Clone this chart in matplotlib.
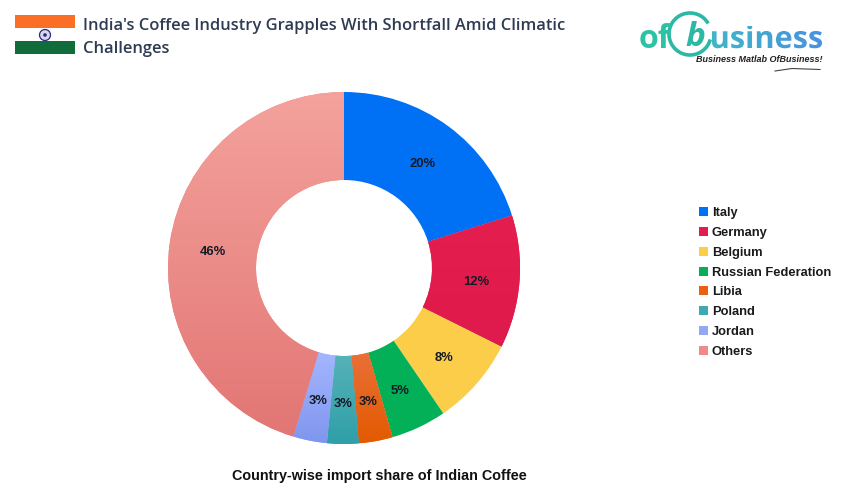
import matplotlib
matplotlib.use("Agg")
import matplotlib.pyplot as plt
import numpy as np
from matplotlib.font_manager import FontProperties
from matplotlib.patches import Rectangle, Circle, Arc, PathPatch
from matplotlib.textpath import TextPath
from matplotlib.transforms import Affine2D

W, H = 845, 491

countries = ["Italy", "Germany", "Belgium", "Russian Federation", "Libia", "Poland", "Jordan", "Others"]
shares = [20.2, 12.2, 8.1, 5.1, 3.1, 2.9, 3.1, 45.4]
colors = ["#0070f5", "#e31c4d", "#fccd48", "#03b057", "#e8610f", "#3fa9b0", "#92a8f5", "#ee8a88"]
# top / bottom colours for the slices with a visible gradient
gradients = {
    "Germany": ("#e41e4e", "#df1a4c"),
    "Libia": ("#ea7038", "#e35a00"),
    "Poland": ("#56b2b8", "#2f9fa8"),
    "Jordan": ("#a4b6ff", "#7f96ee"),
    "Others": ("#f4a29c", "#e27674"),
}
pct_labels = ["20%", "12%", "8%", "5%", "3%", "3%", "3%", "46%"]

title_text = "India's Coffee Industry Grapples With Shortfall Amid Climatic\nChallenges"
caption = "Country-wise import share of Indian Coffee"


def px_axes(fig, x0, y0, x1, y1):
    """Axes from pixel box, y measured from the top."""
    return fig.add_axes([x0 / W, 1 - y1 / H, (x1 - x0) / W, (y1 - y0) / H])


def hex_rgb(c):
    return np.array(matplotlib.colors.to_rgb(c))


fig = plt.figure(figsize=(W / 100, H / 100), dpi=100, facecolor="white")

# donut
cx, cy, r = 344, 268, 176
ax = px_axes(fig, cx - r, cy - r, cx + r, cy + r)
wedges, _ = ax.pie(shares, colors=colors, startangle=90, counterclock=False, radius=1,
                   wedgeprops={"width": 0.5, "linewidth": 0})

for name, w in zip(countries, wedges):
    if name in gradients:
        top, bottom = gradients[name]
        t = np.linspace(0, 1, 256)[:, None]
        img = (hex_rgb(top) * (1 - t) + hex_rgb(bottom) * t)[:, None, :]
        # the gradient runs over the slice height only
        bb = w.get_path().get_extents(w.get_patch_transform())
        im = ax.imshow(img, extent=[bb.x0, bb.x1, bb.y0, bb.y1], aspect="auto", zorder=2)
        im.set_clip_path(w)
ax.set_xlim(-1, 1)
ax.set_ylim(-1, 1)

for w, lab in zip(wedges, pct_labels):
    a = np.deg2rad((w.theta1 + w.theta2) / 2)
    ax.text(0.755 * np.cos(a), 0.755 * np.sin(a) - 0.017, lab, ha="center", va="center", zorder=3,
            fontsize=9.4, fontweight="bold", family="Liberation Sans", color="#141a26")

# legend
handles = [Rectangle((0, 0), 1, 1, facecolor=c, edgecolor="none") for c in colors]
fig.legend(handles, countries, loc="center left", bbox_to_anchor=(699 / W, 1 - 282.5 / H),
           frameon=False, handlelength=0.7, handleheight=0.7, handletextpad=0.3,
           labelspacing=0.605, borderpad=0, borderaxespad=0,
           prop={"family": "Liberation Sans", "weight": "bold", "size": 9.3}, labelcolor="#1a1a1a")

# caption
fig.text(379 / W, 1 - 476 / H, caption, ha="center", va="center", fontsize=10.4,
         fontweight="bold", family="Liberation Sans", color="#111111")

# title
fig.text(83 / W, 1 - 37.5 / H, title_text, ha="left", va="center", fontsize=11.9, fontweight="semibold",
         family="Open Sans", color="#2f3b52", linespacing=1.58)

# flag
flag = px_axes(fig, 15, 15, 75, 54)
flag.set_xlim(0, 60)
flag.set_ylim(39, 0)
flag.axis("off")
flag.add_patch(Rectangle((0, 0), 60, 13, facecolor="#fb6e26", edgecolor="none"))
flag.add_patch(Rectangle((0, 26), 60, 13, facecolor="#126b3a", edgecolor="none"))
flag.add_patch(Circle((30, 20), 5.5, facecolor="#d9d6f0", edgecolor="#2a2a80", linewidth=0.9))
flag.add_patch(Circle((30, 20), 1.8, facecolor="#2a2a80", edgecolor="none"))

# logo
logo = px_axes(fig, 620, 0, 845, 80)
logo.text(639, 39, "of", fontsize=23, fontweight="bold", family="Open Sans", color="#2cc3a5",
          ha="left", va="center")
logo.add_patch(Arc((690, 34), 42, 42, angle=-15, theta1=30, theta2=345, color="#2bb8a4", linewidth=2.6))
logo.text(695, 38, "b", fontsize=24, fontweight="bold", family="Open Sans", color="#2bb8a4",
          ha="center", va="center", style="italic")

# "usiness" fades from teal to blue, so it is a text path filled by a clipped image
word = TextPath((0, 0), "usiness", size=1, prop=FontProperties(family="Open Sans", weight="bold"))
bb = word.get_extents()
s = 110 / bb.width
word_tf = Affine2D().translate(-bb.x0, 0).scale(s, -s).translate(712, 48) + logo.transData
word_patch = PathPatch(word, transform=word_tf, facecolor="none", edgecolor="none")
logo.add_patch(word_patch)
t = np.linspace(0, 1, 256)[None, :, None]
word_img = (hex_rgb("#3fb6c6") * (1 - t) + hex_rgb("#4a92e0") * t)
im = logo.imshow(word_img, extent=[712, 822, 52, 26], aspect="auto")
im.set_clip_path(word_patch)

logo.text(696, 59, "Business Matlab OfBusiness!", fontsize=6.5, fontweight="bold", style="italic",
          family="Liberation Sans", color="#222222", ha="left", va="center")
logo.plot([775, 792, 820], [71, 68.5, 69.5], color="#444444", linewidth=0.8)
logo.set_xlim(620, 845)
logo.set_ylim(80, 0)
logo.axis("off")

fig.savefig("out.png", dpi=100, facecolor="white")
